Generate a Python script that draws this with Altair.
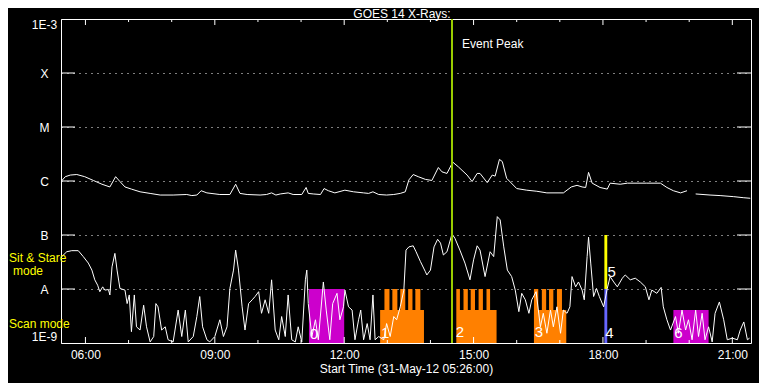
import altair as alt
import pandas as pd

TITLE = "GOES 14 X-Rays:"
X_TITLE = "Start Time (31-May-12 05:26:00)"
START_HOUR = 5 + 26 / 60          # 05:26
SPAN_MIN = 960                    # 16 hours shown

# (minutes after start, log10 flux W/m^2) -- long channel (upper curve)
UPPER = [(0, -6.01), (6, -5.92), (13, -5.89), (22, -5.88), (33, -5.92), (45, -5.99), (57, -6.06),
         (68, -6.11), (76, -5.92), (82, -6.01), (89, -6.11), (98, -6.15), (110, -6.20), (124, -6.23),
         (138, -6.26), (156, -6.26), (175, -6.25), (182, -6.27), (189, -6.26), (195, -6.18), (203, -6.22),
         (221, -6.25), (235, -6.25), (243, -6.06), (249, -6.23), (259, -6.25), (277, -6.26), (286, -6.25),
         (293, -6.22), (299, -6.26), (305, -6.24), (316, -6.22), (323, -6.25), (335, -6.25), (341, -6.12),
         (344, -6.23), (351, -6.24), (361, -6.25), (366, -6.14), (372, -6.18), (381, -6.22), (395, -6.17),
         (407, -6.20), (421, -6.22), (428, -6.23), (434, -6.20), (442, -6.25), (453, -6.26), (463, -6.25),
         (472, -6.23), (479, -6.20), (484, -5.98), (490, -5.88), (497, -5.92), (507, -5.97), (516, -5.99),
         (525, -5.75), (530, -5.83), (537, -5.86), (545, -5.65), (553, -5.74), (565, -5.89), (572, -6.01),
         (579, -5.86), (583, -5.86), (593, -6.03), (600, -5.89), (604, -5.91), (610, -5.60), (614, -5.64),
         (620, -5.95), (634, -6.14), (648, -6.17), (662, -6.19), (676, -6.22), (699, -6.22), (710, -6.11),
         (718, -6.08), (725, -6.11), (730, -6.12), (734, -5.84), (739, -6.04), (750, -6.12), (760, -6.15),
         (764, -6.04), (778, -6.06), (788, -6.04), (815, -6.04), (834, -6.04), (843, -6.12), (852, -6.18),
         (862, -6.22), (871, -6.18), (883, -6.24), (903, -6.26), (917, -6.27), (936, -6.29), (950, -6.31),
         (959, -6.32)]
UPPER_GAP_AFTER = 875  # data gap in the long channel

# (minutes after start, log10 flux W/m^2) -- short channel (lower curve)
LOWER = [(1, -7.40), (8, -7.31), (15, -7.29), (24, -7.29), (31, -7.40), (38, -7.52), (43, -7.65), (47, -7.83),
         (51, -7.93), (54, -8.05), (58, -7.96), (61, -8.02), (66, -8.01), (68, -8.11), (71, -7.59), (75, -7.34),
         (78, -7.65), (82, -7.99), (89, -8.02), (92, -8.27), (95, -8.11), (98, -8.79), (102, -8.11), (105, -8.70),
         (110, -8.76), (115, -8.30), (119, -8.70), (124, -8.98), (129, -8.88), (132, -8.27), (135, -8.33),
         (140, -8.76), (145, -8.70), (149, -8.94), (156, -8.98), (163, -8.39), (168, -8.88), (173, -8.39),
         (177, -8.98), (184, -8.88), (189, -8.51), (193, -8.14), (197, -8.70), (203, -8.94), (207, -8.98),
         (214, -8.88), (221, -8.57), (226, -8.88), (231, -8.70), (235, -7.99), (240, -7.65), (243, -7.28),
         (247, -7.65), (252, -8.33), (256, -8.76), (261, -8.27), (266, -8.20), (270, -8.14), (275, -8.05),
         (279, -8.45), (284, -8.20), (289, -8.45), (293, -7.83), (298, -8.76), (303, -8.94), (307, -8.51),
         (312, -8.88), (316, -8.11), (321, -8.94), (326, -8.98), (330, -8.70), (335, -8.98), (340, -7.83),
         (342, -7.65), (344, -8.27), (349, -8.88), (354, -8.57), (358, -8.94), (365, -7.87), (369, -8.39),
         (374, -8.94), (378, -8.27), (384, -8.08), (388, -8.57), (393, -8.33), (395, -8.02), (400, -8.33),
         (405, -8.39), (409, -8.94), (414, -8.57), (417, -8.39), (421, -8.94), (426, -8.64), (430, -8.94),
         (434, -8.11), (437, -8.94), (442, -8.88), (449, -8.94), (453, -8.64), (458, -8.88), (463, -8.51),
         (467, -8.57), (472, -8.33), (477, -8.02), (480, -7.28), (484, -7.22), (490, -7.20), (494, -7.31),
         (500, -7.49), (507, -7.68), (509, -7.74), (514, -7.65), (519, -7.22), (524, -7.08), (528, -7.15),
         (532, -7.37), (537, -7.31), (544, -6.98), (548, -7.06), (555, -7.28), (562, -7.52), (569, -7.83),
         (574, -7.46), (579, -7.20), (583, -7.28), (590, -7.77), (597, -7.31), (602, -7.40), (607, -6.66),
         (611, -6.72), (616, -7.22), (621, -7.65), (627, -7.77), (632, -8.02), (637, -8.42), (641, -8.08),
         (646, -8.20), (651, -8.45), (655, -8.20), (661, -8.05), (667, -8.70), (671, -8.45), (676, -8.82),
         (681, -8.39), (685, -8.70), (690, -8.33), (695, -8.82), (699, -8.39), (704, -8.45), (708, -8.33),
         (711, -7.77), (716, -7.96), (720, -7.87), (725, -8.02), (728, -8.20), (732, -7.40), (734, -7.04),
         (737, -7.52), (741, -8.14), (745, -7.99), (749, -8.14), (755, -8.33), (760, -7.99), (764, -7.77),
         (769, -7.87), (774, -7.96), (781, -7.80), (785, -7.74), (792, -7.83), (799, -7.80), (806, -7.87),
         (813, -7.96), (818, -8.20), (822, -8.02), (829, -8.08), (835, -7.97), (838, -8.33), (843, -8.57),
         (848, -8.76), (855, -8.51), (859, -8.82), (864, -8.39), (869, -8.76), (873, -8.57), (878, -8.94),
         (883, -8.39), (887, -8.88), (892, -8.45), (896, -8.94), (901, -8.70), (906, -8.98), (910, -8.45),
         (916, -8.24), (922, -8.57), (927, -8.94), (934, -8.91), (941, -8.94), (945, -8.76), (950, -8.61),
         (955, -8.94), (958, -8.91)]

# observing-mode blocks: (start min, end min, log10 low, log10 high, kind)
BLOCKS = [(345, 394, -9, -8, "raster"), (444, 505, -9, -8.39, "scan"), (550, 606, -9, -8.39, "scan"),
          (658, 703, -9, -8.39, "scan"), (756, 760, -9, -8, "blue"), (756, 760, -8, -7, "stare"),
          (852, 901, -9, -8.39, "raster")]
# comb teeth on top of the scan blocks: (start min, end min)
TEETH = [(450, 457), (461, 468), (472, 479), (483, 489), (493, 500),
         (550, 555), (560, 566), (570, 576), (581, 587), (592, 597),
         (658, 664), (669, 675), (679, 685), (690, 697)]
TEETH_LOW, TEETH_HIGH = -8.39, -8
BLOCK_LABELS = [("0", 352, -8.83), ("1", 451, -8.81), ("2", 555, -8.80), ("3", 665, -8.80),
                ("4", 763, -8.81), ("5", 766, -7.69), ("6", 859, -8.81)]
EVENT_T = 544
EVENT_LABEL = ("Event Peak", 558, -3.46)
DECADES = [-9, -8, -7, -6, -5, -4, -3]
HOUR_TICKS = list(range(6, 22))
HOUR_LABELS = [6, 9, 12, 15, 18, 21]
SIDE_LABELS = [("Sit & Stare", -52, -7.43), ("mode", -48, -7.67), ("Scan mode", -52, -8.64)]

KIND_DOMAIN = ["raster", "scan", "blue", "stare"]
KIND_RANGE = ["#cc00cc", "#ff8000", "#6666ff", "#ffff00"]
FONT = "Liberation Sans"
W, H = 690, 324


def hr(t):
    return START_HOUR + t / 60


up = pd.DataFrame(UPPER, columns=["t", "logf"])
up["seg"] = (up["t"] > UPPER_GAP_AFTER).astype(int)
lo = pd.DataFrame(LOWER, columns=["t", "logf"])
lo["seg"] = 0
for d in (up, lo):
    d["hr"] = hr(d["t"])
    d["flux"] = 10 ** d["logf"]

blocks = pd.DataFrame(BLOCKS, columns=["t0", "t1", "l0", "l1", "kind"])
teeth = pd.DataFrame(TEETH, columns=["t0", "t1"])
teeth["l0"], teeth["l1"], teeth["kind"] = TEETH_LOW, TEETH_HIGH, "scan"
rects = pd.concat([blocks, teeth], ignore_index=True)
rects["hr"] = hr(rects["t0"])
rects["hr2"] = hr(rects["t1"])
rects["flux"] = 10.0 ** rects["l0"]
rects["flux2"] = 10.0 ** rects["l1"]

labels = pd.DataFrame(BLOCK_LABELS, columns=["text", "t", "logf"])
labels["hr"] = hr(labels["t"])
labels["flux"] = 10 ** labels["logf"]

ev = pd.DataFrame({"hr": [hr(EVENT_T)]})
evl = pd.DataFrame([EVENT_LABEL], columns=["text", "t", "logf"])
evl["hr"] = hr(evl["t"])
evl["flux"] = 10 ** evl["logf"]

ytk = pd.DataFrame({"flux": [10.0 ** d for d in DECADES[1:-1]]})
xtk = pd.DataFrame({"hr": HOUR_TICKS})
side = pd.DataFrame(SIDE_LABELS, columns=["text", "px", "logf"])
side["flux"] = 10 ** side["logf"]
title_df = pd.DataFrame({"text": [TITLE]})

x_scale = alt.Scale(domain=[START_HOUR, START_HOUR + SPAN_MIN / 60], nice=False, zero=False)
y_scale = alt.Scale(type="log", domain=[1e-9, 1e-3], nice=False)

exp = "round(log(datum.value)/LN10)"
y_label_expr = (f"{exp} == -3 ? '1E-3' : {exp} == -4 ? 'X' : {exp} == -5 ? 'M' : "
                f"{exp} == -6 ? 'C' : {exp} == -7 ? 'B' : {exp} == -8 ? 'A' : '1E-9'")

X = alt.X("hr:Q", scale=x_scale, axis=alt.Axis(
    values=HOUR_LABELS, labelExpr="(datum.value < 10 ? '0' : '') + datum.value + ':00'",
    title=X_TITLE, labelPadding=6, titlePadding=3, labelFlush=False, grid=False))
Y = alt.Y("flux:Q", scale=y_scale, axis=alt.Axis(
    values=[10.0 ** d for d in DECADES], labelExpr=y_label_expr, title=None,
    grid=True, gridDash=[1, 5], gridColor="white", gridOpacity=1,
    labelAlign="center", labelPadding=17, labelFlush=True))
Xs = alt.X("hr:Q", scale=x_scale)
Ys = alt.Y("flux:Q", scale=y_scale)

rect_layer = alt.Chart(rects).mark_rect().encode(
    x=X, x2="hr2:Q", y=Y, y2="flux2:Q",
    color=alt.Color("kind:N", scale=alt.Scale(domain=KIND_DOMAIN, range=KIND_RANGE), legend=None))

upper_line = alt.Chart(up).mark_line(color="white", strokeWidth=1, clip=True).encode(
    x=Xs, y=Ys, detail="seg:N")
lower_line = alt.Chart(lo).mark_line(color="white", strokeWidth=1, clip=True).encode(
    x=Xs, y=Ys, detail="seg:N")

ytick_l = alt.Chart(ytk).mark_rule(color="white").encode(y=Ys, x=alt.value(0), x2=alt.value(14))
ytick_r = alt.Chart(ytk).mark_rule(color="white").encode(y=Ys, x=alt.value(W - 14), x2=alt.value(W))
major = alt.datum.hr % 3 == 0
minor = alt.datum.hr % 3 != 0
xt_bmaj = alt.Chart(xtk).mark_rule(color="white").transform_filter(major).encode(
    x=Xs, y=alt.value(H), y2=alt.value(H - 6))
xt_bmin = alt.Chart(xtk).mark_rule(color="white").transform_filter(minor).encode(
    x=Xs, y=alt.value(H), y2=alt.value(H - 3))
xt_tmaj = alt.Chart(xtk).mark_rule(color="white").transform_filter(major).encode(
    x=Xs, y=alt.value(0), y2=alt.value(6))
xt_tmin = alt.Chart(xtk).mark_rule(color="white").transform_filter(minor).encode(
    x=Xs, y=alt.value(0), y2=alt.value(3))

event_rule = alt.Chart(ev).mark_rule(color="#99cc00", strokeWidth=2).encode(x=Xs)
event_text = alt.Chart(evl).mark_text(align="left", baseline="middle", color="white",
                                      font=FONT, fontSize=12).encode(x=Xs, y=Ys, text="text:N")
block_text = alt.Chart(labels).mark_text(align="center", baseline="middle", color="white",
                                         font=FONT, fontSize=15).encode(x=Xs, y=Ys, text="text:N")
side_text = alt.Chart(side).mark_text(align="left", baseline="middle", color="#ffff00",
                                      font=FONT, fontSize=12).encode(
    x=alt.X("px:Q", scale=None), y=Ys, text="text:N")
title_text = alt.Chart(title_df).mark_text(align="center", baseline="alphabetic", color="white",
                                           font=FONT, fontSize=12).encode(
    x=alt.value(W / 2 - 4), y=alt.value(-1.5), text="text:N")

chart = alt.layer(
    rect_layer, upper_line, lower_line, ytick_l, ytick_r,
    xt_bmaj, xt_bmin, xt_tmaj, xt_tmin, event_rule, event_text, block_text, side_text, title_text
).properties(
    width=W, height=H,
    padding={"left": 53, "top": 11, "right": 8, "bottom": 40},
    autosize=alt.AutoSizeParams(type="none"),
).configure(background="black").configure_view(
    stroke="white", strokeWidth=1
).configure_axis(
    domain=False, ticks=False, tickSize=0, grid=False,
    labelColor="white", labelFont=FONT, labelFontSize=12,
    titleColor="white", titleFont=FONT, titleFontSize=12, titleFontWeight="normal"
)

chart.save("out.html", embed_options={"renderer": "svg", "actions": False})
